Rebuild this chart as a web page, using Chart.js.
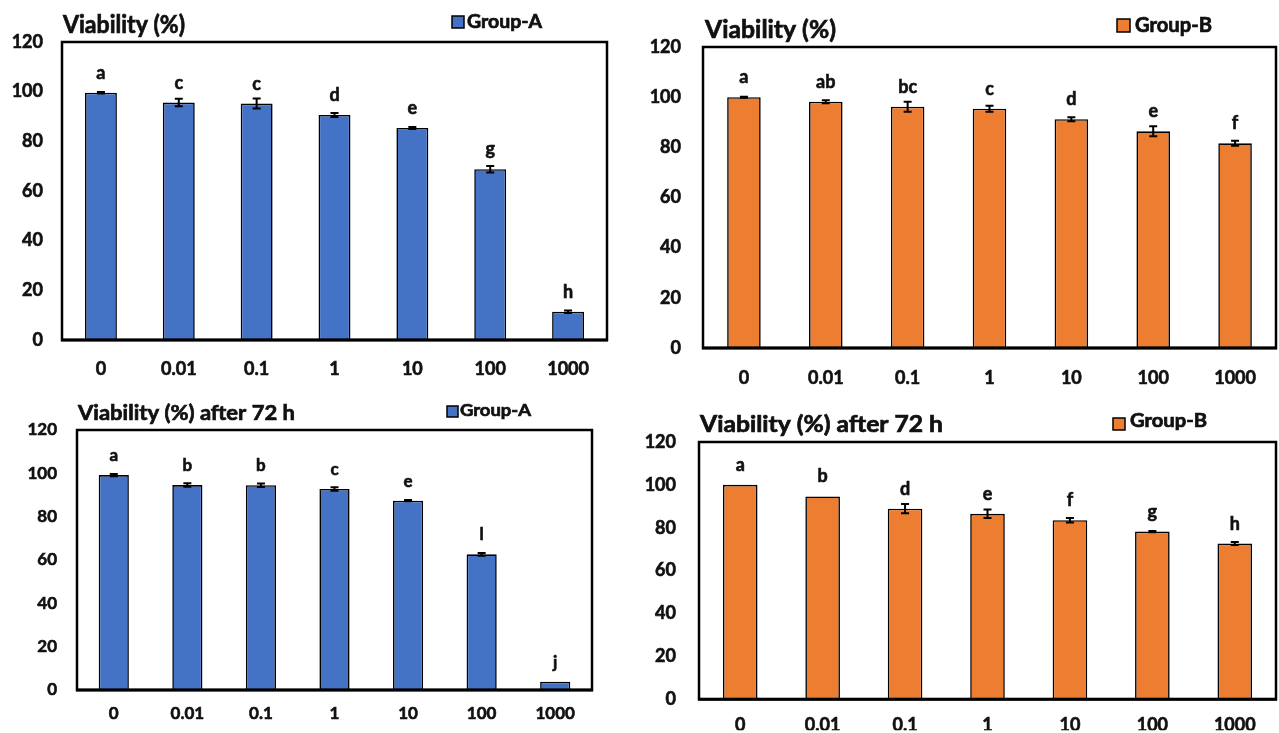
<!DOCTYPE html>
<html><head><meta charset="utf-8">
<script src="https://cdn.jsdelivr.net/npm/chart.js@4.4.1/dist/chart.umd.min.js"></script>
<style>
html,body{margin:0;padding:0;background:#fff;width:1279px;height:733px;overflow:hidden;position:relative;}
canvas{position:absolute;}
</style></head><body>
<canvas id="c1"></canvas>
<canvas id="c2"></canvas>
<canvas id="c3"></canvas>
<canvas id="c4"></canvas>
<script>
// ---------- data ----------
const categories = ['0', '0.01', '0.1', '1', '10', '100', '1000'];
const yTicks = [0, 20, 40, 60, 80, 100, 120];

const viabilityA = [99.6, 95.6, 95.2, 90.6, 85.4, 68.8, 11.4];
const errorA = [0.3, 1.5, 2.0, 0.8, 0.4, 1.3, 0.5];
const lettersA = ['a', 'c', 'c', 'd', 'e', 'g', 'h'];

const viabilityB = [100, 98.2, 96.2, 95.4, 91.2, 86.4, 81.6];
const errorB = [0.2, 0.6, 2.0, 1.2, 0.8, 2.0, 1.0];
const lettersB = ['a', 'ab', 'bc', 'c', 'd', 'e', 'f'];

const viabilityA72 = [99.2, 94.6, 94.5, 92.8, 87.4, 62.6, 3.8];
const errorA72 = [0.5, 0.8, 0.8, 0.8, 0.3, 0.6, 0];
const lettersA72 = ['a', 'b', 'b', 'c', 'e', 'l', 'j'];

const viabilityB72 = [100, 94.6, 88.9, 86.5, 83.5, 78.2, 72.6];
const errorB72 = [0, 0, 2.2, 2.0, 1.0, 0.3, 0.7];
const lettersB72 = ['a', 'b', 'd', 'e', 'f', 'g', 'h'];

const BLUE = '#4472C4';
const ORANGE = '#ED7D31';
const FONT = 'Lato, "Open Sans", sans-serif';
const INK = '#111';

// draw text at a given font size, squeezed horizontally to a target width
function drawFitted(ctx, text, x, cy, size, width) {
  ctx.font = 'bold ' + size + 'px ' + FONT;
  const w = ctx.measureText(text).width;
  const sx = Math.min(1.15, width / w);
  ctx.save();
  ctx.translate(x, cy);
  ctx.scale(sx, 1);
  ctx.textAlign = 'left';
  ctx.textBaseline = 'middle';
  ctx.fillStyle = INK;
  ctx.strokeStyle = INK;
  ctx.lineWidth = 0.7;
  ctx.fillText(text, 0, 0);
  ctx.strokeText(text, 0, 0);
  ctx.restore();
}

function panel(o) {
  const cv = document.getElementById(o.id);
  cv.width = o.w; cv.height = o.h;
  cv.style.left = o.x + 'px'; cv.style.top = o.y + 'px';
  cv.style.width = o.w + 'px'; cv.style.height = o.h + 'px';
  const A = o.area;

  const deco = {
    id: 'deco_' + o.id,
    afterDatasetsDraw(chart) {
      const ctx = chart.ctx;
      const ys = chart.scales.y;
      const meta = chart.getDatasetMeta(0);
      ctx.save();
      o.values.forEach((v, i) => {
        const x = meta.data[i].x;
        const e = o.errors[i];
        ctx.strokeStyle = '#000';
        ctx.lineWidth = 2;
        if (e > 0) {
          const yt = ys.getPixelForValue(v + e);
          const yb = ys.getPixelForValue(v - e);
          ctx.beginPath();
          ctx.moveTo(x, yt); ctx.lineTo(x, yb);
          ctx.moveTo(x - 4, yt); ctx.lineTo(x + 4, yt);
          ctx.moveTo(x - 4, yb); ctx.lineTo(x + 4, yb);
          ctx.stroke();
        }
        ctx.fillStyle = INK;
        ctx.strokeStyle = INK;
        ctx.lineWidth = 0.6;
        ctx.font = 'bold ' + o.letterSize + 'px ' + FONT;
        ctx.textAlign = 'center';
        ctx.textBaseline = 'alphabetic';
        const ly = ys.getPixelForValue(v) - 14;
        ctx.fillText(o.letters[i], x, ly);
        ctx.strokeText(o.letters[i], x, ly);
      });
      ctx.restore();
    },
    afterDraw(chart) {
      const ctx = chart.ctx;
      const ca = chart.chartArea;
      ctx.save();
      // plot frame
      ctx.strokeStyle = '#000';
      ctx.lineWidth = 2.5;
      ctx.strokeRect(ca.left, ca.top, ca.right - ca.left, ca.bottom - ca.top);
      ctx.lineWidth = 3;
      ctx.beginPath(); ctx.moveTo(ca.left - 1, ca.bottom); ctx.lineTo(ca.right + 1, ca.bottom); ctx.stroke();
      // title
      const t = o.title;
      drawFitted(ctx, t.text, t.x - o.x, t.cy - o.y, t.size, t.width);
      // legend
      const L = o.legend;
      ctx.fillStyle = o.color;
      ctx.strokeStyle = '#000';
      ctx.lineWidth = 1.5;
      ctx.fillRect(L.sx - o.x, L.sy - o.y, L.ss, L.ss);
      ctx.strokeRect(L.sx - o.x, L.sy - o.y, L.ss, L.ss);
      drawFitted(ctx, o.series, L.tx - o.x, L.cy - o.y, L.size, L.tw);
      ctx.restore();
    }
  };

  new Chart(cv, {
    type: 'bar',
    data: {
      labels: categories,
      datasets: [{
        label: o.series,
        data: o.values,
        backgroundColor: o.color,
        borderColor: '#000',
        borderWidth: 1.6,
        borderSkipped: 'bottom',
        categoryPercentage: 1,
        barPercentage: o.barPct
      }]
    },
    options: {
      responsive: false,
      animation: false,
      devicePixelRatio: 1,
      layout: { padding: { top: A.t - o.y, right: o.x + o.w - A.r, left: 0, bottom: 0 } },
      plugins: { legend: { display: false }, title: { display: false }, tooltip: { enabled: false } },
      scales: {
        x: {
          grid: { display: false, drawTicks: false },
          border: { display: false },
          ticks: { color: INK, textStrokeColor: INK, textStrokeWidth: 0.6, font: { family: FONT, weight: 'bold', size: o.xSize }, padding: o.xPad, maxRotation: 0, autoSkip: false },
          afterFit(s) { s.height = o.y + o.h - A.b; }
        },
        y: {
          min: 0, max: 120,
          grid: { display: false, drawTicks: false },
          border: { display: false },
          afterBuildTicks(s) { s.ticks = yTicks.map(v => ({ value: v })); },
          ticks: { color: INK, textStrokeColor: INK, textStrokeWidth: 0.6, font: { family: FONT, weight: 'bold', size: o.ySize }, padding: o.yPad },
          afterFit(s) { s.width = A.l - o.x; }
        }
      }
    },
    plugins: [deco]
  });
}

panel({
  id: 'c1', x: 0, y: 0, w: 640, h: 392,
  area: { l: 62, r: 607, t: 42, b: 340 },
  values: viabilityA, errors: errorA, letters: lettersA,
  color: BLUE, series: 'Group-A', barPct: 0.41,
  xSize: 18, ySize: 18, xPad: 18, yPad: 19, letterSize: 18,
  title: { text: 'Viability (%)', x: 63, cy: 25, width: 122, size: 24 },
  legend: { sx: 452, sy: 16, ss: 12, tx: 467, tw: 75, cy: 22, size: 19 }
});

panel({
  id: 'c2', x: 640, y: 0, w: 639, h: 395,
  area: { l: 703, r: 1276, t: 47, b: 348 },
  values: viabilityB, errors: errorB, letters: lettersB,
  color: ORANGE, series: 'Group-B', barPct: 0.41,
  xSize: 18, ySize: 18, xPad: 19, yPad: 22, letterSize: 18,
  title: { text: 'Viability (%)', x: 705, cy: 30, width: 131, size: 25 },
  legend: { sx: 1117, sy: 19, ss: 13, tx: 1135, tw: 77, cy: 26, size: 20 }
});

panel({
  id: 'c3', x: 0, y: 392, w: 640, h: 341,
  area: { l: 77, r: 592, t: 430, b: 690 },
  values: viabilityA72, errors: errorA72, letters: lettersA72,
  color: BLUE, series: 'Group-A', barPct: 0.41,
  xSize: 17, ySize: 17, xPad: 13, yPad: 20, letterSize: 17,
  title: { text: 'Viability (%) after 72 h', x: 78, cy: 413, width: 217, size: 21 },
  legend: { sx: 447, sy: 406, ss: 11, tx: 460, tw: 71, cy: 411, size: 17 }
});

panel({
  id: 'c4', x: 640, y: 395, w: 639, h: 338,
  area: { l: 699, r: 1276, t: 442, b: 702 },
  values: viabilityB72, errors: errorB72, letters: lettersB72,
  color: ORANGE, series: 'Group-B', barPct: 0.42,
  xSize: 18, ySize: 18, xPad: 15, yPad: 23, letterSize: 18,
  title: { text: 'Viability (%) after 72 h', x: 700, cy: 425, width: 243, size: 23 },
  legend: { sx: 1113, sy: 418, ss: 12, tx: 1130, tw: 77, cy: 421, size: 18 }
});
</script>
</body></html>
